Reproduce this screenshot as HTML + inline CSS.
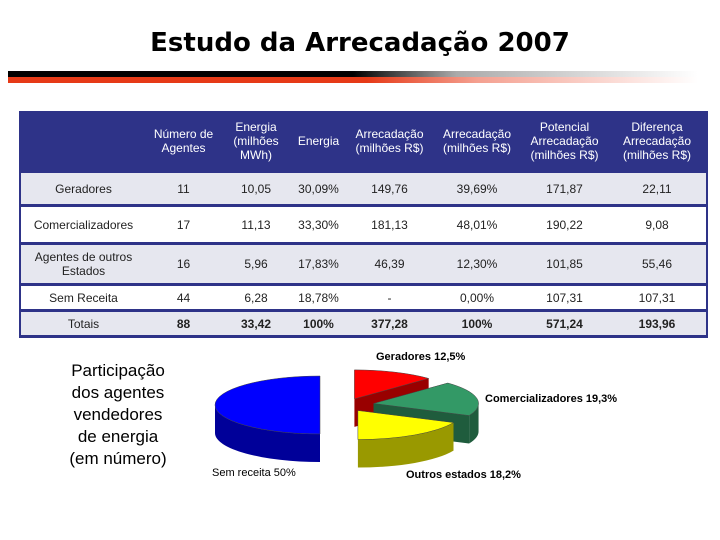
<!DOCTYPE html>
<html><head><meta charset="utf-8">
<style>
body{margin:0;width:720px;height:540px;background:#fff;position:relative;overflow:hidden;font-family:"Liberation Sans",sans-serif}
#title{position:absolute;left:0;top:28px;width:720px;text-align:center;font:bold 26px "DejaVu Sans","Liberation Sans",sans-serif;color:#000}
.bar{position:absolute;left:8px;width:690px;height:6px}
#tbl{position:absolute;left:19px;top:111px;width:687px;border-collapse:collapse;font-size:12px;color:#222;table-layout:fixed}
#tbl td,#tbl th{text-align:center;padding:0;border-bottom:3px solid #2e3388}
#tbl th{background:#2e3388;color:#fff;font-weight:normal;font-size:12px;line-height:14px;height:59px}
#tbl tr.g td{background:#e6e7ef}
#tbl{border-left:2px solid #2e3388;border-right:2px solid #2e3388}
#side{position:absolute;left:48px;top:360px;width:140px;text-align:center;font-size:17px;line-height:22px;color:#000}
.pl{position:absolute;font-size:11px;font-weight:bold;font-family:"Liberation Sans",sans-serif;white-space:nowrap}
</style></head><body>
<div id="title">Estudo da Arrecadação 2007</div>
<div class="bar" style="top:71px;background:linear-gradient(90deg,#000 0%,#000 50%,#aaa 65%,#fff 100%)"></div>
<div class="bar" style="top:77px;background:linear-gradient(90deg,#e63a17 0%,#e63a17 52%,#f4a090 68%,#fff 100%)"></div>
<table id="tbl">
<colgroup><col style="width:126px"><col style="width:75px"><col style="width:70px"><col style="width:55px"><col style="width:87px"><col style="width:88px"><col style="width:87px"><col style="width:99px"></colgroup>
<tr><th></th><th>Número de<br>Agentes</th><th>Energia<br>(milhões<br>MWh)</th><th>Energia</th><th>Arrecadação<br>(milhões R$)</th><th>Arrecadação<br>(milhões R$)</th><th>Potencial<br>Arrecadação<br>(milhões R$)</th><th>Diferença<br>Arrecadação<br>(milhões R$)</th></tr>
<tr class="g" style="height:34px"><td>Geradores</td><td>11</td><td>10,05</td><td>30,09%</td><td>149,76</td><td>39,69%</td><td>171,87</td><td>22,11</td></tr>
<tr style="height:38px"><td>Comercializadores</td><td>17</td><td>11,13</td><td>33,30%</td><td>181,13</td><td>48,01%</td><td>190,22</td><td>9,08</td></tr>
<tr class="g" style="height:41px"><td>Agentes de outros<br>Estados</td><td>16</td><td>5,96</td><td>17,83%</td><td>46,39</td><td>12,30%</td><td>101,85</td><td>55,46</td></tr>
<tr style="height:26px"><td>Sem Receita</td><td>44</td><td>6,28</td><td>18,78%</td><td>-</td><td>0,00%</td><td>107,31</td><td>107,31</td></tr>
<tr class="g" style="height:26px"><td>Totais</td><td><b>88</b></td><td><b>33,42</b></td><td><b>100%</b></td><td><b>377,28</b></td><td><b>100%</b></td><td><b>571,24</b></td><td><b>193,96</b></td></tr>
</table>
<div id="side">Participação<br>dos agentes<br>vendedores<br>de energia<br>(em número)</div>
<svg id="pie" width="720" height="540" style="position:absolute;left:0;top:0"></svg>
<div class="pl" style="left:376px;top:351px">Geradores 12,5%</div>
<div class="pl" style="left:485px;top:393px">Comercializadores 19,3%</div>
<div class="pl" style="left:406px;top:469px">Outros estados 18,2%</div>
<div class="pl" style="left:212px;top:467px;font-weight:normal">Sem receita 50%</div>
<script>
const categories=["Geradores","Comercializadores","Outros estados","Sem receita"];
const values=[12.5,19.3,18.2,50];
const topColors=["#ff0000","#339966","#ffff00","#0000ff"];
const sideColors=["#990000","#1f5c3d","#999900","#000099"];
const explode=[22,28,22,26];
const svg=document.getElementById('pie');
const NS="http://www.w3.org/2000/svg";
const cx=346,cy=405,rx=105,ry=29,dep=28;
const total=values.reduce((a,b)=>a+b,0);
function pt(a,ox,oy){return [ox+rx*Math.sin(a),oy-ry*Math.cos(a)];}
let a0=0;
const slices=values.map((v,i)=>{const a1=a0+v/total*2*Math.PI;const s={i,a0,a1};a0=a1;return s;});
slices.forEach(s=>{
  const m=(s.a0+s.a1)/2;
  const ox=cx+explode[s.i]*Math.sin(m), oy=cy-explode[s.i]*0.3*Math.cos(m);
  const g=document.createElementNS(NS,'g');
  
  
  const f0=Math.max(s.a0,Math.PI/2), f1=Math.min(s.a1,3*Math.PI/2);
  [s.a0,s.a1].forEach(a=>{
    const p=pt(a,ox,oy);
    const w=document.createElementNS(NS,'path');
    w.setAttribute('d',`M${ox},${oy} L${p[0]},${p[1]} L${p[0]},${p[1]+dep} L${ox},${oy+dep}Z`);
    w.setAttribute('fill',sideColors[s.i]);
    
    
    g.appendChild(w);
  });
  if(f1>f0){
    const p0=pt(f0,ox,oy),p1=pt(f1,ox,oy);
    const w=document.createElementNS(NS,'path');
    w.setAttribute('d',`M${p0[0]},${p0[1]} A${rx},${ry} 0 0 1 ${p1[0]},${p1[1]} L${p1[0]},${p1[1]+dep} A${rx},${ry} 0 0 0 ${p0[0]},${p0[1]+dep}Z`);
    w.setAttribute('fill',sideColors[s.i]);
    
    
    g.appendChild(w);
  }
  const p0=pt(s.a0,ox,oy),p1=pt(s.a1,ox,oy);
  const large=(s.a1-s.a0)>Math.PI?1:0;
  const t=document.createElementNS(NS,'path');
  t.setAttribute('d',`M${ox},${oy} L${p0[0]},${p0[1]} A${rx},${ry} 0 ${large} 1 ${p1[0]},${p1[1]}Z`);
  t.setAttribute('fill',topColors[s.i]);
  t.setAttribute('stroke','#444');t.setAttribute('stroke-width','0.5');
  
  
  g.appendChild(t);
  svg.appendChild(g);
});
</script>
</body></html>
